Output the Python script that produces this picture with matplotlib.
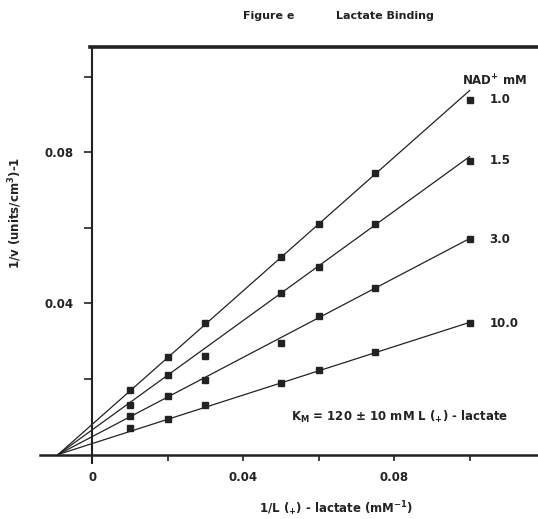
import matplotlib.pyplot as plt

plt.rcParams['font.family'] = 'DejaVu Sans'
plt.rcParams['font.weight'] = 'bold'
plt.rcParams['mathtext.default'] = 'bf'

# reciprocal lactate concentration (mM^-1)
inv_lactate = [0.01, 0.02, 0.03, 0.05, 0.06, 0.075, 0.10]

# reciprocal rates, one list per NAD+ concentration
inv_v_nad_1_0 = [0.0171, 0.0259, 0.0348, 0.0522, 0.0611, 0.0746, 0.0939]
inv_v_nad_1_5 = [0.0131, 0.0211, 0.0262, 0.0429, 0.0497, 0.0611, 0.0778]
inv_v_nad_3_0 = [0.0102, 0.0155, 0.0196, 0.0295, 0.0367, 0.0440, 0.0570]
inv_v_nad_10_0 = [0.0069, 0.0094, 0.0131, 0.0190, 0.0224, 0.0272, 0.0348]

nad_labels = ['1.0', '1.5', '3.0', '10.0']

# fitted lines: common x-intercept and value at 1/L = 0.10
fit_x_intercept = -0.009
fit_x_end = 0.10
fit_y_end = [0.0964, 0.0789, 0.0572, 0.0350]

xticks = [0, 0.02, 0.04, 0.06, 0.08, 0.10]
xtick_labels = ['0', '', '0.04', '', '0.08', '']
yticks = [0.02, 0.04, 0.06, 0.08, 0.10]
ytick_labels = ['', '0.04', '', '0.08', '']

ink = '#222222'

fig = plt.figure(figsize=(5.38, 5.19), dpi=100)
ax = fig.add_axes([40 / 538, 1 - 463 / 519, 498 / 538, (463 - 46.7) / 519])
ax.set_xlim(-0.0138, 0.1181)
ax.set_ylim(-0.00225, 0.108)

series = [inv_v_nad_1_0, inv_v_nad_1_5, inv_v_nad_3_0, inv_v_nad_10_0]
for vals, y_end, lab in zip(series, fit_y_end, nad_labels):
    ax.plot([fit_x_intercept, fit_x_end], [0, y_end], color=ink, lw=0.9)
    ax.plot(inv_lactate, vals, 's', color=ink, ms=5, mec=ink)
    ax.text(0.1052, vals[-1], lab, ha='left', va='center', fontsize=8.5, color=ink)

ax.text(0.1065, 0.0989, r'NAD$^{+}$ mM', ha='center', va='center', fontsize=8.5, color=ink)
ax.text(0.1102, 0.0100, r'K$_{M}$ = 120 ± 10 mM L ($_{+}$) - lactate',
        ha='right', va='center', fontsize=8.5, color=ink)

# axes drawn through the origin, heavy frame line along the top
ax.spines['left'].set_position(('data', 0))
ax.spines['bottom'].set_position(('data', 0))
ax.spines['right'].set_visible(False)
ax.spines['top'].set_bounds(-0.0005, 0.1181)
ax.spines['left'].set_linewidth(1.5)
ax.spines['bottom'].set_linewidth(1.8)
ax.spines['top'].set_linewidth(2.6)
for s in ax.spines.values():
    s.set_color(ink)

ax.set_xticks(xticks)
ax.set_xticklabels(xtick_labels)
ax.set_yticks(yticks)
ax.set_yticklabels(ytick_labels)
ax.tick_params(axis='y', direction='out', length=6, width=1.2, pad=7,
               labelsize=8.5, colors=ink)
ax.tick_params(axis='x', direction='out', length=4, width=1.2, pad=8,
               labelsize=8.5, colors=ink)

fig.text(269 / 538, 1 - 16 / 519, 'Figure e', ha='center', va='center', fontsize=8, color=ink)
fig.text(385 / 538, 1 - 16 / 519, 'Lactate Binding', ha='center', va='center', fontsize=8, color=ink)
fig.text(15 / 538, 1 - 212.5 / 519, r'1/v (units/cm$^{3}$)-1', rotation=90,
         ha='center', va='center', fontsize=8.5, color=ink)
fig.text(336.5 / 538, 1 - 509 / 519, r'1/L ($_{+}$) - lactate (mM$^{-1}$)',
         ha='center', va='center', fontsize=8.5, color=ink)

fig.savefig('out.png', dpi=100)
